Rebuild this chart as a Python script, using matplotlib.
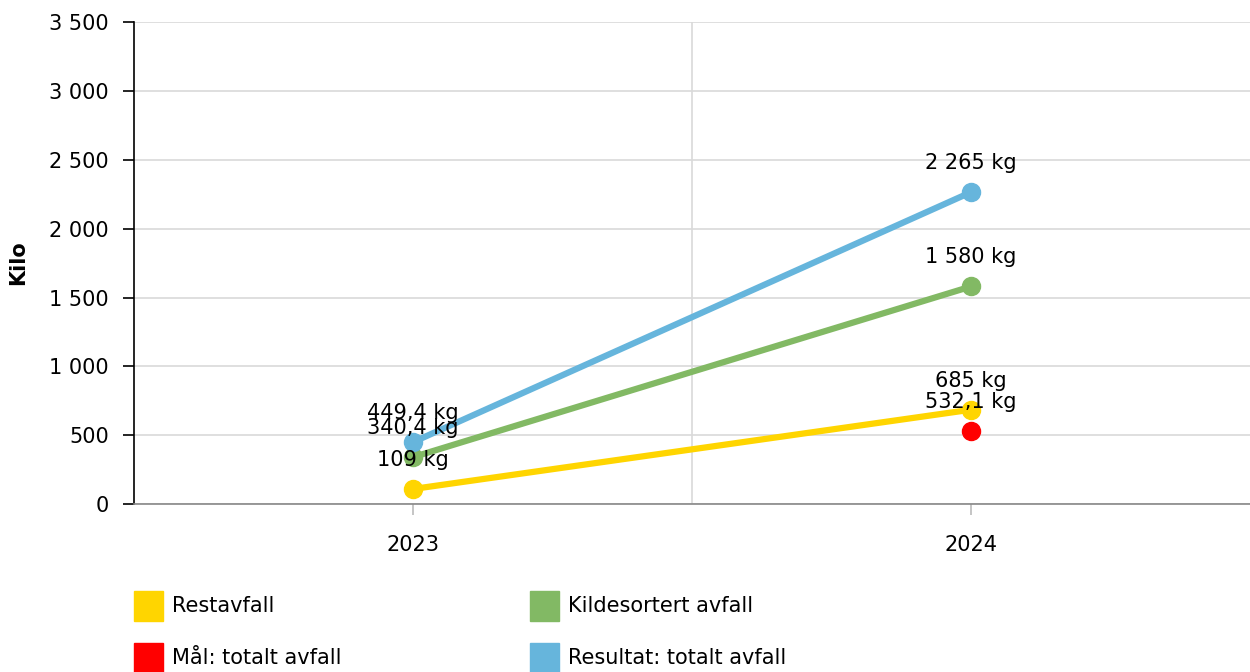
import matplotlib
matplotlib.use('Agg')
import matplotlib.pyplot as plt
from matplotlib.patches import Rectangle
from matplotlib.ticker import FuncFormatter

# data
aar = ['2023', '2024']
restavfall = [109, 685]
kildesortert = [340.4, 1580]
resultat_total = [449.4, 2265]
maal_total = [None, 532.1]

serier = [
    ('Restavfall', restavfall, '#FFD500'),
    ('Kildesortert avfall', kildesortert, '#82B964'),
    ('Mål: totalt avfall', maal_total, '#FF0000'),
    ('Resultat: totalt avfall', resultat_total, '#66B5DC'),
]

plt.rcParams['font.family'] = ['DejaVu Sans']
fig = plt.figure(figsize=(12.5, 6.72), dpi=100)
ax = fig.add_axes([0.1072, 0.25, 0.8928, 0.717])


def fmt_no(v):
    # norsk format: mellomrom som tusenskille, komma som desimal
    if float(v).is_integer():
        s = f"{int(v):,}".replace(',', ' ')
    else:
        s = f"{v:,.1f}".replace(',', ' ').replace('.', ',')
    return s


for navn, verdier, farge in serier:
    xs = [i for i, v in enumerate(verdier) if v is not None]
    ys = [v for v in verdier if v is not None]
    ax.plot(xs, ys, color=farge, linewidth=4.5, marker='o', markersize=13,
            solid_capstyle='round', zorder=3)
    for x, y in zip(xs, ys):
        ax.annotate(f"{fmt_no(y)} kg", (x, y), xytext=(0, 21),
                    textcoords='offset points', ha='center', va='center',
                    fontsize=15, color='black', zorder=5)

ax.set_xlim(-0.5, 1.5)
ax.set_ylim(0, 3500)
ax.set_yticks(range(0, 3501, 500))
ax.yaxis.set_major_formatter(FuncFormatter(lambda v, p: fmt_no(v)))
ax.set_xticks([0, 1])
ax.set_xticklabels(aar)
ax.set_xticks([0.5], minor=True)

ax.grid(axis='y', color='#d9d9d9', linewidth=1.2)
ax.grid(axis='x', which='minor', color='#d9d9d9', linewidth=1.2)
ax.set_axisbelow(True)

for s in ['top', 'right']:
    ax.spines[s].set_visible(False)
ax.spines['left'].set_color('black')
ax.spines['left'].set_linewidth(1.2)
ax.spines['bottom'].set_color('#888888')
ax.spines['bottom'].set_linewidth(1.2)

ax.tick_params(axis='y', length=8, width=1.2, color='black', labelsize=15, pad=10)
ax.tick_params(axis='x', which='major', length=8, width=1.2, color='#bbbbbb',
               labelsize=15, pad=14)
ax.tick_params(axis='x', which='minor', length=0)

ax.set_ylabel('Kilo', fontsize=15, fontweight='bold', labelpad=15)

# legende
leg_pos = [(134, 606), (530, 606), (134, 658), (530, 658)]
W, H = 1250, 672
for (navn, _, farge), (px, py) in zip(serier, leg_pos):
    fig.add_artist(Rectangle((px / W, (H - py - 15) / H), 29 / W, 30 / H,
                             transform=fig.transFigure, color=farge))
    fig.text((px + 38) / W, (H - py) / H, navn, fontsize=15, va='center',
             ha='left')

fig.savefig('out.png', dpi=100)
